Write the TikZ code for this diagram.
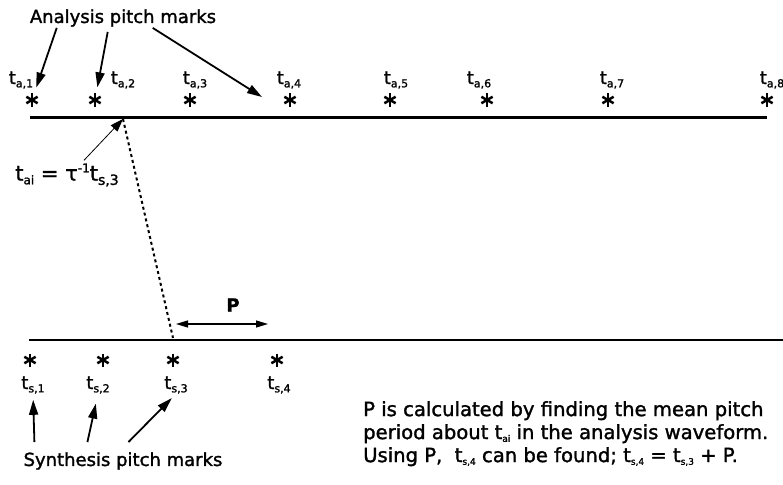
\documentclass[tikz,border=0pt]{standalone}
\usepackage{fontspec}
\setmainfont{DejaVu Sans}[FakeBold=1.5]
\usetikzlibrary{arrows.meta,calc,positioning}

% pitch-mark label: t with a small lowered index
\newcommand{\tmark}[2]{t{\fontsize{#2}{#2}\selectfont\raisebox{-0.3em}{#1}}}

\tikzset{
  pmark/.style={inner sep=0pt,minimum size=15pt,
    path picture={\foreach \a in {90,30,150}
      \draw[line width=2.5pt] ([shift={(\a:6.5)}]path picture bounding box.center)--([shift={(\a+180:6.5)}]path picture bounding box.center);}},
  lbl/.style={inner sep=0pt,font=\fontsize{18}{20}\selectfont},
  big/.style={inner sep=0pt,font=\fontsize{18}{22}\selectfont},
  pointer/.style={-{Triangle[length=15pt,width=9pt]},line width=1.8pt},
}

\begin{document}
\begin{tikzpicture}[x=1pt,y=-1pt]
\useasboundingbox (0,0) rectangle (783,484);
% analysis waveform
\coordinate (aL) at (30,117);
\coordinate (aR) at (767,117);
\draw[line width=3pt] (aL)--(aR);
\foreach \x/\lx [count=\i] in {32/21,95/123,190/195,290/289,390/396,487/479,608/612,767/772}{
  \node[pmark] (a\i) at (\x,100) {};
  \node[lbl] (ta\i) at (\lx,80) {\tmark{a,\i}{11}};
}
\node[big] (ana) at (123,18) {Analysis pitch marks};
\coordinate (gap) at (262,97);
\draw[pointer,shorten >=5pt] ($(ana.south west)+(27,1)$)--(a1);
\draw[pointer,shorten >=5pt] ($(ana.south west)+(78,5)$)--(a2);
\draw[pointer] ($(ana.south west)+(123,1)$)--(gap);

% mapping to synthesis
\coordinate (ai) at (123,119);
\coordinate (s3) at (173,338);
\draw[line width=2pt,dash pattern=on 3pt off 3pt] (ai)--(s3);
\node[inner sep=0pt,font=\fontsize{21}{24}\selectfont] (eq) at (67,175) {\tmark{ai}{12} = τ{\fontsize{12}{12}\selectfont\raisebox{0.7em}{-1}}\tmark{s,3}{14}};
\draw[-{Triangle[length=13pt,width=9pt]},line width=0.8pt] ($(eq.north)+(17,-3)$)--(ai);

% synthesis waveform
\coordinate (sL) at (29,340);
\coordinate (sR) at (783,340);
\draw[line width=2pt] (sL)--(sR);
\coordinate (p0) at (176,324);
\coordinate (p1) at (268,324);
\draw[{Triangle[length=12pt,width=7pt]}-{Triangle[length=12pt,width=7pt]},line width=1.2pt] (p0)--(p1);
\node[big,font=\fontsize{18}{22}\selectfont\bfseries] (plbl) at (233,305) {P};
\foreach \x/\lx [count=\i] in {30/33,103/98,173/176,277/279}{
  \node[pmark] (s\i) at (\x,360) {};
  \node[lbl] (ts\i) at (\lx,385) {\tmark{s,\i}{11}};
}
\node[big] (syn) at (123,461) {Synthesis pitch marks};
\foreach \dx/\t/\sh in {11/ts1/6,64/ts2/10,105/ts3/6}
  \draw[pointer,shorten >=\sh pt] ($(syn.north west)+(\dx,-10)$)--(\t.south);

\node[inner sep=0pt,font=\fontsize{19.6}{23}\selectfont,anchor=north west,align=left] (note) at (363,401) {P is calculated by finding the mean pitch\\
period about \tmark{ai}{9} in the analysis waveform.\\
Using P,\ \ \tmark{s,4}{9} can be found; \tmark{s,4}{9} = \tmark{s,3}{9} + P.};
\end{tikzpicture}
\end{document}
